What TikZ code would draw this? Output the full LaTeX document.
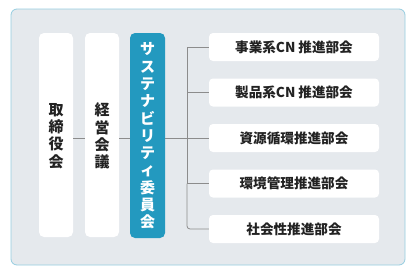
\documentclass[tikz,border=0pt]{standalone}
\usepackage{fontspec}
\newfontfamily\jp{Noto Sans CJK JP}
\definecolor{panelfill}{HTML}{E5E9ED}
\definecolor{panelline}{HTML}{95CDE0}
\definecolor{teal}{HTML}{2399BF}
\definecolor{conn}{HTML}{8C8C8C}
\definecolor{ink}{HTML}{222222}
\tikzset{
  panel/.style={fill=panelfill, draw=panelline, line width=0.8pt, rounded corners=6pt},
  vbox/.style={fill=white, rounded corners=5pt, minimum width=34pt, minimum height=204pt, inner sep=0pt},
  cbox/.style={fill=teal, rounded corners=5pt, minimum width=35pt, minimum height=205pt, inner sep=0pt, text=white},
  hbox/.style={fill=white, rounded corners=4pt, minimum width=170pt, minimum height=28pt, inner sep=0pt, text=ink, font=\jp\bfseries\fontsize{13.6}{15}\selectfont},
  vtext/.style={align=center, text=ink, font=\jp\bfseries\fontsize{15}{17.3}\selectfont},
  connline/.style={draw=conn, line width=0.8pt}
}
\begin{document}
\begin{tikzpicture}[x=1pt,y=-1pt]
\useasboundingbox (0,0) rectangle (412,273);
\draw[panel] (11,9) rectangle (405,265);
\node[vbox] (torishimari) at (56,135) {};
\node[vbox] (keiei) at (102,135) {};
\node[cbox] (iinkai) at (147.5,135.5) {};
\node[vtext] at (56,136) {取\\締\\役\\会};
\node[vtext] at (102,136) {経\\営\\会\\議};
\node[vtext, text=white] at (147.5,136) {サ\\ス\\テ\\ナ\\ビ\\リ\\テ\\ィ\\委\\員\\会};
\node[hbox] (b1) at (294,47) {事業系CN\hspace{3pt}推進部会};
\node[hbox] (b2) at (294,92.5) {製品系CN\hspace{3pt}推進部会};
\node[hbox] (b3) at (294,138) {資源循環推進部会};
\node[hbox] (b4) at (294,183.5) {環境管理推進部会};
\node[hbox] (b5) at (294,229) {社会性推進部会};
\coordinate (bus) at (187,0);
\draw[connline] (torishimari.east |- b3.west) -- (keiei.west |- b3.west);
\draw[connline] (keiei.east |- b3.west) -- (iinkai.west |- b3.west);
\draw[connline] (iinkai.east |- b3.west) -- (b3.west);
\draw[connline] (b1.west) -- (b1.west -| bus) -- (b4.west -| bus);
\draw[connline, rounded corners=3pt] (b4.west -| bus) |- (b5.west);
\draw[connline] (b2.west -| bus) -- (b2.west);
\draw[connline] (b4.west -| bus) -- (b4.west);
\end{tikzpicture}
\end{document}
